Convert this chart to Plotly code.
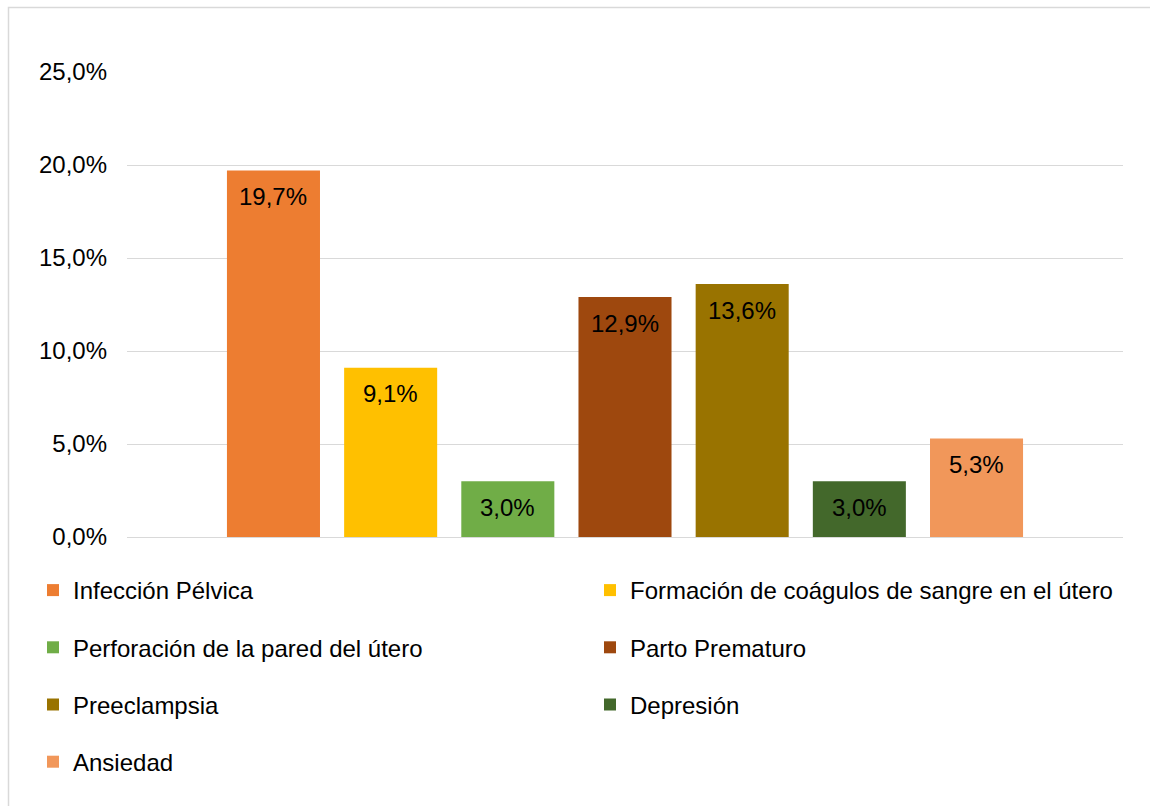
import plotly.graph_objects as go

series = ["Infección Pélvica", "Formación de coágulos de sangre en el útero",
          "Perforación de la pared del útero", "Parto Prematuro",
          "Preeclampsia", "Depresión", "Ansiedad"]
values = [0.197, 0.091, 0.030, 0.129, 0.136, 0.030, 0.053]
colors = ["#ED7D31", "#FFC000", "#70AD47", "#9E480E", "#997300", "#43682B", "#F1975A"]
ytickvals = [0, 0.05, 0.10, 0.15, 0.20, 0.25]

W, H = 1150, 806
L, R, T, B = 127, 27, 72, 269
pw, ph = W - L - R, H - T - B
FONT = "Liberation Sans, Arial, sans-serif"
FS = 24

def px_x(p):
    return (p - L) / pw

def px_y(p):
    return (H - B - p) / ph

def fmt(v):
    return f"{v * 100:.1f}%".replace(".", ",")

fig = go.Figure()
for i, (name, v, c) in enumerate(zip(series, values, colors)):
    fig.add_trace(go.Bar(
        x=[name], y=[v], name=name, marker=dict(color=c, line=dict(width=0)),
        legendgroup=f"g{i}",
        legend="legend" if i % 2 == 0 else "legend2",
    ))
    fig.add_annotation(x=name, y=v, xref="x", yref="y", text=fmt(v),
                       showarrow=False, yanchor="middle", yshift=-26,
                       font=dict(size=FS, family=FONT, color="black"))

legend_common = dict(
    orientation="v", font=dict(size=FS, family=FONT, color="black"),
    bgcolor="rgba(0,0,0,0)", borderwidth=0, tracegroupgap=23,
    xanchor="left", yanchor="top", itemclick=False,
)
fig.update_layout(
    width=W, height=H,
    margin=dict(l=L, r=R, t=T, b=B),
    paper_bgcolor="white", plot_bgcolor="white",
    separators=",.",
    barmode="overlay", bargap=0.206,
    showlegend=True,
    legend=dict(x=px_x(33), y=px_y(568), **legend_common),
    legend2=dict(x=px_x(590), y=px_y(568), **legend_common),
    font=dict(family=FONT, size=FS, color="black"),
    xaxis=dict(type="category", range=[-1.25, 7.25], showticklabels=False,
               showgrid=False, zeroline=False, showline=False, ticks=""),
    yaxis=dict(range=[0, 0.25], tickvals=ytickvals, tickformat=".1%",
               showgrid=True, gridcolor="#D9D9D9", gridwidth=1.3,
               zeroline=True, zerolinecolor="#D9D9D9", zerolinewidth=1.3,
               showline=False, ticks="", ticklabelstandoff=19,
               tickfont=dict(size=FS, family=FONT, color="black")),
    shapes=[dict(type="rect", xref="paper", yref="paper",
                 x0=px_x(8.5), x1=px_x(1170), y0=px_y(7.5), y1=px_y(830),
                 line=dict(color="#D9D9D9", width=1.5), fillcolor="rgba(0,0,0,0)",
                 layer="below")],
)

fig.write_html("out.html")
